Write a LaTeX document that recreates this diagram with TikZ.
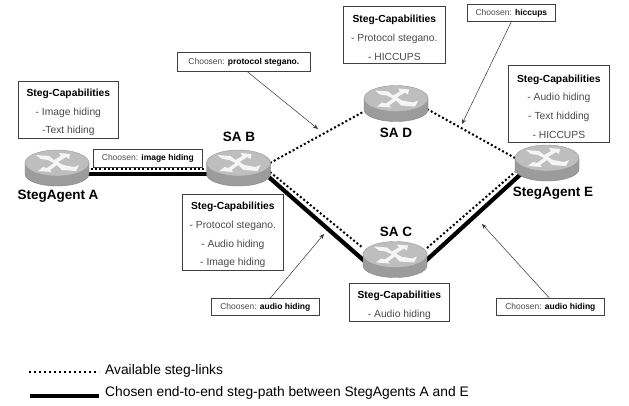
\documentclass[tikz,border=0pt]{standalone}
\usepackage{fontspec}
\setmainfont{Liberation Sans}
\usetikzlibrary{arrows.meta,calc}
\definecolor{capgrey}{HTML}{4A4A4A}
\definecolor{bodygrey}{HTML}{9C9C9C}
\definecolor{topgrey}{HTML}{BEBEBE}
\tikzset{
  x=1pt,y=-1pt,
  capbox/.style={draw=black!75,line width=.7pt,fill=white,inner sep=0pt,font=\fontsize{10.3}{18.7}\selectfont},
  choosebox/.style={draw=black!75,line width=.7pt,fill=white,inner sep=0pt,font=\fontsize{8.5}{10}\selectfont,text=capgrey},
  availlink/.style={line width=2pt,dash pattern=on 2pt off 2.3pt},
  legenddots/.style={line width=1.6pt,dash pattern=on 1.6pt off 3.4pt},
  chosenlink/.style={line width=4.2pt},
  callout/.style={line width=.5pt,black!80,-{Stealth[length=5pt,width=4pt]}},
  agentlabel/.style={font=\fontsize{13.5}{15}\bfseries\selectfont},
  legendtext/.style={font=\fontsize{13.8}{16}\selectfont,anchor=west,inner sep=0pt},
}
\newcommand{\capnode}[6]{% name x1 y1 x2 y2 content
  \node[capbox,minimum width=#4-#2,minimum height=#5-#3,anchor=north west,align=center] (#1) at (#2,#3) {\rule{0pt}{13pt}#6};}
\newcommand{\choosenode}[6]{%
  \node[choosebox,minimum width=#4-#2,minimum height=#5-#3,anchor=north west] (#1) at (#2,#3) {#6};}
\newcommand{\router}[1]{%
  \begin{scope}[shift={(#1)}]
    \fill[bodygrey,draw=black!50,line width=.4pt] (-32,-5) -- (-32,6) arc[x radius=32,y radius=12,start angle=180,end angle=0] -- (32,-5) -- cycle;
    \fill[topgrey,draw=black!40,line width=.4pt] (0,-5) ellipse[x radius=32,y radius=13];
    \fill[white,opacity=.85] (-21,-13) -- (-8,-12) -- (-3,-8) -- (4,-12) -- (2,-15) -- (13,-14) -- (12,-9) -- (9,-11) -- (1,-6) -- (6,-3) -- (17,-1) -- (22,-3) -- (19,3) -- (5,2) -- (0,-3) -- (-7,2) -- (-5,4) -- (-19,3) -- (-14,-1) -- (-10,0) -- (-3,-5) -- (-9,-8) -- (-16,-9) -- cycle;
  \end{scope}}
\begin{document}
\begin{tikzpicture}
\useasboundingbox (0,0) rectangle (629,405);
\fill[white] (0,0) rectangle (629,405);
% router centres
\coordinate (A) at (57,168);
\coordinate (B) at (238.5,168);
\coordinate (D) at (396,103.5);
\coordinate (E) at (547,163);
\coordinate (C) at (395,259.5);
% links
\draw[availlink] ($(A)+(25,1)$) -- ($(B)+(-25,1)$);
\draw[chosenlink] ($(A)+(25,6)$) -- ($(B)+(-25,6)$);
\draw[availlink] ($(B)+(31.5,-5)$) -- ($(D)+(-33,8.5)$);
\draw[availlink] ($(D)+(31,5.5)$) -- ($(E)+(-32,-5)$);
\draw[availlink] ($(B)+(31.5,4)$) -- ($(C)+(-32,-11.5)$);
\draw[chosenlink] ($(B)+(29,8)$) -- ($(C)+(-30,2)$);
\draw[availlink] ($(C)+(32,-11.5)$) -- ($(E)+(-32,9)$);
\draw[chosenlink] ($(C)+(30,2)$) -- ($(E)+(-25,10)$);
% routers
\router{A}\router{B}\router{D}\router{E}\router{C}
% capability boxes
\capnode{capA}{18}{81}{118}{138}{\textbf{Steg-Capabilities}\\\textcolor{capgrey}{- Image hiding}\\\textcolor{capgrey}{-Text hiding}}
\capnode{capB}{182}{194}{283}{270}{\textbf{Steg-Capabilities}\\\textcolor{capgrey}{- Protocol stegano.}\\\textcolor{capgrey}{- Audio hiding}\\\textcolor{capgrey}{- Image hiding}}
\capnode{capD}{343}{6}{445}{63}{\textbf{Steg-Capabilities}\\\textcolor{capgrey}{- Protocol stegano.}\\\textcolor{capgrey}{- HICCUPS}}
\capnode{capE}{508}{65}{609}{142}{\textbf{Steg-Capabilities}\\\textcolor{capgrey}{- Audio hiding}\\\textcolor{capgrey}{- Text hidding}\\\textcolor{capgrey}{- HICCUPS}}
\capnode{capC}{349}{283}{449}{321}{\textbf{Steg-Capabilities}\\\textcolor{capgrey}{- Audio hiding}}
% chosen boxes
\choosenode{chImage}{93}{149}{202}{167}{Choosen: \textbf{\textcolor{black}{image hiding}}}
\choosenode{chProto}{177}{52}{310}{71}{Choosen: \textbf{\textcolor{black}{protocol stegano.}}}
\choosenode{chHicc}{467}{4}{555}{21}{Choosen: \textbf{\textcolor{black}{hiccups}}}
\choosenode{chAudL}{211}{298}{319}{315}{Choosen: \textbf{\textcolor{black}{audio hiding}}}
\choosenode{chAudR}{496}{298}{604}{315}{Choosen: \textbf{\textcolor{black}{audio hiding}}}
% callouts
\coordinate (tProto) at (318,129);
\coordinate (tHicc) at (462,124);
\coordinate (tAudL) at (324,234);
\coordinate (tAudR) at (482,224);
\draw[callout] ([xshift=3.5pt]chProto.south) -- (tProto);
\draw[callout] ([xshift=0pt]chHicc.south) -- (tHicc);
\draw[callout] ([xshift=5pt]chAudL.north) -- (tAudL);
\draw[callout] ([xshift=-1pt]chAudR.north) -- (tAudR);
% names
\node[agentlabel] (nA) at (58,196) {StegAgent A};
\node[agentlabel] (nB) at (239,137) {SA B};
\node[agentlabel] (nD) at (396,133) {SA D};
\node[agentlabel] (nE) at (553,193) {StegAgent E};
\node[agentlabel] (nC) at (396,232) {SA C};
% legend
\coordinate (la) at (29,372);
\coordinate (lb) at (99,372);
\coordinate (lc) at (30,396);
\coordinate (ld) at (99,396);
\draw[legenddots] (la) -- (lb);
\draw[chosenlink] (lc) -- (ld);
\node[legendtext] (l1) at (105,371) {Available steg-links};
\node[legendtext] (l2) at (105,393) {Chosen end-to-end steg-path between StegAgents A and E};
\end{tikzpicture}
\end{document}
